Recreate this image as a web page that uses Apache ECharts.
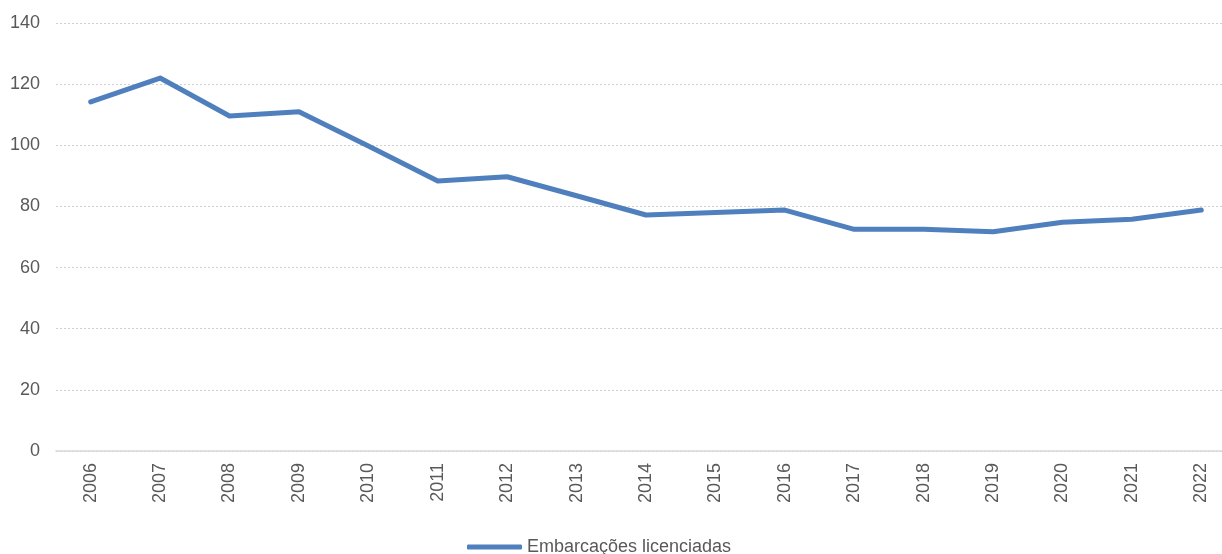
<!DOCTYPE html>
<html>
<head>
<meta charset="utf-8">
<script src="https://cdn.jsdelivr.net/npm/echarts@6/dist/echarts.min.js"></script>
<style>
  html, body { margin: 0; padding: 0; background: #fff; }
  #chart { width: 1222px; height: 554px; }
</style>
</head>
<body>
<div id="chart"></div>
<script>
const years = ['2006', '2007', '2008', '2009', '2010', '2011', '2012', '2013', '2014',
  '2015', '2016', '2017', '2018', '2019', '2020', '2021', '2022']
const licensed = [114.2, 122.0, 109.6, 111.0, 99.8, 88.3, 89.7, 83.5, 77.2,
  78.0, 78.8, 72.5, 72.5, 71.7, 74.8, 75.8, 78.8]
const seriesName = 'Embarcações licenciadas'

const chart = echarts.init(document.getElementById('chart'))

const labelColor = '#595959'
const font = 'Liberation Sans, Arial, sans-serif'

chart.setOption({
  animation: false,
  backgroundColor: '#ffffff',
  // plot area runs a bit past the right edge, as in the source image
  grid: { left: 56, right: -14, top: 23, bottom: 103, containLabel: false, outerBoundsMode: 'none' },
  legend: {
    left: 462,
    top: 533,
    itemWidth: 55,
    itemHeight: 5,
    itemGap: 10,
    icon: 'roundRect',
    textStyle: { color: labelColor, fontSize: 18, fontFamily: font, padding: [0, 0, 0, 0] },
    data: [seriesName]
  },
  xAxis: {
    type: 'category',
    data: years,
    boundaryGap: true,
    axisLine: { lineStyle: { color: '#d9d9d9', width: 1.5 } },
    axisTick: { show: false },
    axisLabel: { rotate: 90, margin: 12, color: labelColor, fontSize: 18, fontFamily: font, interval: 0 }
  },
  yAxis: {
    type: 'value',
    min: 0,
    max: 140,
    interval: 20,
    axisLine: { show: false },
    axisTick: { show: false },
    axisLabel: { margin: 16, color: labelColor, fontSize: 18, fontFamily: font },
    splitLine: { lineStyle: { color: '#d0d0d0', type: [2, 2], width: 1 } }
  },
  series: [{
    name: seriesName,
    type: 'line',
    data: licensed,
    symbol: 'none',
    color: '#4f80bd',
    lineStyle: { width: 5, cap: 'round', join: 'round' }
  }]
})
</script>
</body>
</html>
